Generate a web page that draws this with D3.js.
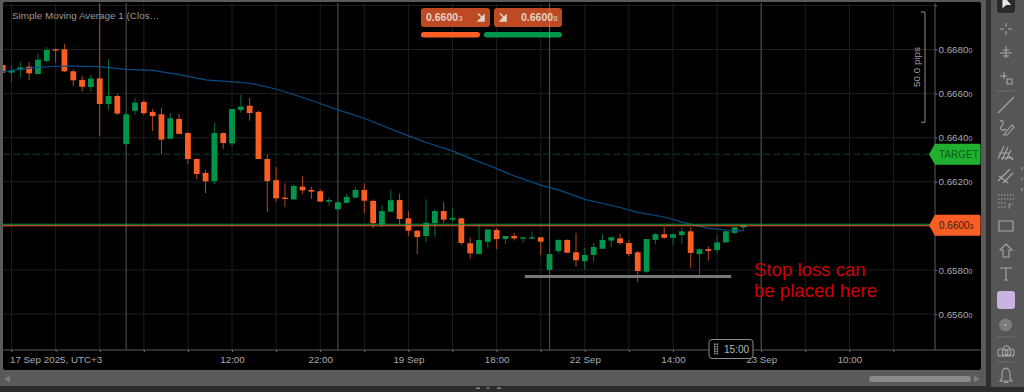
<!DOCTYPE html>
<html>
<head>
<meta charset="utf-8">
<script src="https://cdnjs.cloudflare.com/ajax/libs/d3/7.8.5/d3.min.js"></script>
<style>
  html, body { margin: 0; padding: 0; background: #2d2d2d; overflow: hidden; }
  svg { display: block; font-family: "Liberation Sans", Arial, sans-serif; }
</style>
</head>
<body>
<div id="chart"></div>
<script>
// candles, in 1e-5 price units
const opens = [66730,66695,66707,66722,66689,66748,66801,66801,66701,66662,66630,66669,66553,66589,66371,66522,66562,66517,66506,66395,66485,66421,66303,66240,66203,66421,66374,66526,66545,66517,66303,66207,66128,66120,66178,66163,66157,66110,66075,66104,66128,66163,66113,66004,66064,66117,66034,65978,65954,66012,66067,66028,66034,65921,65872,65927,65981,65940,65954,65942,65942,65948,65800,65886,65936,65880,65840,65868,65896,65933,65943,65922,65880,65792,65936,65962,65946,65958,65975,65872,65894,65890,65925,65968,65993];
const highs = [66730,66728,66743,66743,66783,66811,66805,66825,66710,66680,66686,67010,66756,66598,66512,66580,66571,66530,66535,66512,66507,66426,66306,66253,66467,66424,66530,66594,66580,66521,66321,66267,66193,66188,66225,66178,66166,66128,66110,66146,66175,66193,66120,66095,66163,66146,66067,65981,66120,66075,66108,66078,66037,65948,66002,65986,65989,65954,65968,65948,65975,65948,65918,65939,65939,65968,65899,65922,65962,65951,65964,65936,65886,65940,65968,65993,65964,65993,65993,65896,65907,65957,65978,65996,66004];
const lows = [66695,66654,66672,66662,66686,66743,66740,66698,66634,66609,66609,66408,66526,66503,66367,66504,66503,66430,66325,66395,66417,66281,66211,66149,66190,66349,66362,66513,66477,66303,66063,66110,66085,66117,66144,66122,66108,66091,66072,66104,66125,66057,65990,65993,66064,66005,65954,65872,65927,65949,66013,66017,65913,65850,65872,65901,65894,65918,65933,65922,65940,65868,65768,65875,65878,65815,65800,65836,65896,65904,65912,65862,65745,65786,65918,65940,65914,65918,65809,65772,65842,65877,65925,65963,65978];
const closes = [66695,66707,66719,66692,66754,66798,66795,66701,66660,66631,66668,66553,66589,66509,66506,66559,66511,66498,66391,66488,66417,66303,66235,66202,66421,66376,66530,66541,66512,66303,66203,66125,66122,66181,66161,66155,66110,66117,66107,66131,66163,66114,66012,66067,66116,66031,65978,65949,66014,66067,66028,66036,65922,65875,65936,65983,65940,65954,65943,65948,65948,65928,65872,65936,65878,65844,65868,65904,65936,65948,65922,65872,65795,65940,65962,65946,65962,65975,65877,65894,65886,65925,65975,65993,66003];

// moving average read at these candle positions
const smaIndex = [0,1,4,6,8,11,14,17,20,23,26,28,31,34,36,38,41,43,46,48,51,53,55,58,61,63,66,70,72,75,77,78,80,82,84];
const smaValues = [66700,66705,66719,66724,66725,66722,66710,66705,66686,66662,66653,66647,66621,66582,66555,66526,66488,66455,66408,66378,66340,66306,66276,66226,66185,66163,66120,66083,66061,66040,66017,66008,65990,65981,65977];

const priceTicks = [0.670, 0.668, 0.666, 0.664, 0.662, 0.658, 0.656, 0.660];
const gridIndex = d3.range(1, 102, 5);
const daySeparators = [14, 38, 62, 86];
const timeLabels = new Map([[6, '17 Sep 2025, UTC+3'], [26, '12:00'], [36, '22:00'], [46, '19 Sep'], [56, '18:00'], [66, '22 Sep'], [76, '14:00'], [86, '23 Sep'], [96, '10:00']]);

const bid = '0.66003';
const ask = '0.66008';
const targetPrice = 0.66325;
const stopLevel = 0.65770;
const stopRange = [59.2, 82.6];
const rulerRange = [0.66970, 0.66470];

const width = 1024, height = 392;
const plot = { left: 3, top: 2, right: 981, bottom: 370, axisX: 935, axisY: 350 };
const orange = '#f95f25', green = '#00964a';

const x = d3.scaleLinear().domain([0, 100]).range([2.7, 884.7]);
const y = d3.scaleLinear().domain([0.668, 0.656]).range([49.5, 314]);
const pts = v => v / 1e5;

const svg = d3.select('#chart').append('svg').attr('width', width).attr('height', height);

// window frame
svg.append('rect').attr('width', width).attr('height', height).attr('fill', '#2d2d2d');
svg.append('rect').attr('width', 986).attr('height', 386).attr('fill', '#5a5a5a');
svg.append('rect').attr('x', 991).attr('width', 33).attr('height', 387).attr('fill', '#565656');
svg.append('rect')
  .attr('x', plot.left).attr('y', plot.top)
  .attr('width', plot.right - plot.left).attr('height', plot.bottom - plot.top)
  .attr('rx', 2).attr('fill', '#000');

svg.append('clipPath').attr('id', 'plot-clip').append('rect')
  .attr('x', plot.left).attr('y', plot.top + 1)
  .attr('width', plot.axisX - plot.left).attr('height', plot.axisY - plot.top - 1);
const g = svg.append('g').attr('clip-path', 'url(#plot-clip)');

// grid
g.selectAll('.vgrid').data(gridIndex).join('line')
  .attr('x1', d => x(d)).attr('x2', d => x(d)).attr('y1', plot.top).attr('y2', plot.axisY)
  .attr('stroke', '#1d1d1d').attr('stroke-width', 1);
g.selectAll('.hgrid').data(priceTicks).join('line')
  .attr('x1', plot.left).attr('x2', plot.axisX).attr('y1', d => y(d)).attr('y2', d => y(d))
  .attr('stroke', d => d === 0.660 ? 'none' : '#1f1f1f').attr('stroke-width', 1);
g.selectAll('.sep').data(daySeparators).join('line')
  .attr('x1', d => x(d)).attr('x2', d => x(d)).attr('y1', plot.top).attr('y2', plot.axisY)
  .attr('stroke', '#4a4a4a').attr('stroke-width', 1.2);

// target line
g.append('line')
  .attr('x1', plot.left).attr('x2', plot.axisX).attr('y1', y(targetPrice)).attr('y2', y(targetPrice))
  .attr('stroke', '#11401a').attr('stroke-width', 1).attr('stroke-dasharray', '7 3');

// candles
const candles = opens.map((o, i) => ({ i, o: pts(o), h: pts(highs[i]), l: pts(lows[i]), c: pts(closes[i]) }));
const candle = g.selectAll('.candle').data(candles).join('g').attr('class', 'candle');
candle.append('line')
  .attr('x1', d => x(d.i)).attr('x2', d => x(d.i))
  .attr('y1', d => y(d.h)).attr('y2', d => y(d.l))
  .attr('stroke', d => d.c >= d.o ? '#007238' : '#b5481d').attr('stroke-width', 1);
candle.append('rect')
  .attr('x', d => x(d.i) - 2.9).attr('width', 5.8)
  .attr('y', d => y(Math.max(d.o, d.c)))
  .attr('height', d => Math.max(1.2, Math.abs(y(d.o) - y(d.c))))
  .attr('fill', d => d.c >= d.o ? green : orange);

// moving average
const smaLine = d3.line().x(d => x(d)).y((d, i) => y(pts(smaValues[i])));
g.append('path').attr('d', smaLine(smaIndex))
  .attr('fill', 'none').attr('stroke', '#044c84').attr('stroke-width', 1.2);

// bid and ask lines
svg.append('line')
  .attr('x1', plot.left).attr('x2', 932).attr('y1', y(+bid) + 0.6).attr('y2', y(+bid) + 0.6)
  .attr('stroke', orange).attr('stroke-width', 1);
svg.append('line')
  .attr('x1', plot.left).attr('x2', 932).attr('y1', y(+ask) + 0.2).attr('y2', y(+ask) + 0.2)
  .attr('stroke', green).attr('stroke-width', 1.2);

// stop line and note
g.append('line')
  .attr('x1', x(stopRange[0])).attr('x2', x(stopRange[1])).attr('y1', y(stopLevel)).attr('y2', y(stopLevel))
  .attr('stroke', '#787878').attr('stroke-width', 3);
svg.selectAll('.note').data(['Stop loss can', 'be placed here']).join('text')
  .attr('x', 754).attr('y', (d, i) => 276 + i * 21)
  .attr('font-size', 18.6).attr('fill', '#cc0008').text(d => d);

// axes
const yAxis = d3.axisRight(y).tickValues(priceTicks.filter(d => d !== 0.660)).tickSize(2).tickPadding(1.5)
  .tickFormat(d => d === 0.670 ? '' : d.toFixed(4));
const yG = svg.append('g').attr('transform', `translate(${plot.axisX},0)`).call(yAxis);
yG.select('.domain').remove();
yG.selectAll('line').attr('stroke', '#777');
yG.selectAll('text').attr('fill', '#a9a9a9').attr('font-size', 9.8).attr('font-family', '"Liberation Sans", Arial, sans-serif')
  .filter(d => d !== 0.670)
  .append('tspan').attr('font-size', 7).text('0');

const xAxis = d3.axisBottom(x).tickValues(gridIndex).tickSize(2).tickPadding(4.5)
  .tickFormat(d => timeLabels.get(d) || '');
const xG = svg.append('g').attr('transform', `translate(0,${plot.axisY})`).call(xAxis);
xG.select('.domain').remove();
xG.selectAll('line').attr('stroke', '#777');
xG.selectAll('text').attr('fill', '#a9a9a9').attr('font-size', 9.8).attr('font-family', '"Liberation Sans", Arial, sans-serif');

svg.append('line').attr('x1', plot.left).attr('x2', plot.right).attr('y1', plot.axisY).attr('y2', plot.axisY)
  .attr('stroke', '#5c5c5c').attr('stroke-width', 1);
svg.append('line').attr('x1', plot.axisX).attr('x2', plot.axisX).attr('y1', plot.top + 1).attr('y2', plot.axisY)
  .attr('stroke', '#5c5c5c').attr('stroke-width', 1);

// pips ruler
const ruler = svg.append('g').attr('fill', 'none').attr('stroke', '#8a8a8a');
ruler.append('path').attr('d', `M921,${y(rulerRange[0])}H925V${y(rulerRange[1])}H921`);
svg.append('text')
  .attr('transform', 'translate(920,67) rotate(-90)').attr('text-anchor', 'middle')
  .attr('font-size', 9.8).attr('fill', '#a0a0a0').text('50.0 pips');

// legend title
svg.append('text').attr('x', 12).attr('y', 18.5).attr('font-size', 9.9).attr('fill', '#9a9a9a')
  .text('Simple Moving Average 1 (Clos…');

// price flags on the axis
function flag(price, fill) {
  const cy = y(price);
  svg.append('path')
    .attr('d', `M929,${cy}L935,${cy - 10.5}H979q1.5,0 1.5,1.5V${cy + 9}q0,1.5 -1.5,1.5H935Z`)
    .attr('fill', fill);
  return cy;
}
const targetY = flag(targetPrice, '#1fb030');
svg.append('text').attr('x', 939).attr('y', targetY + 3.6).attr('font-size', 10).attr('fill', '#0d5a1c').text('TARGET');
const bidY = flag(+bid, orange);
const bidLabel = svg.append('text').attr('x', 939).attr('y', bidY + 3.6).attr('font-size', 10).attr('fill', '#3a170a').text(bid.slice(0, 6));
bidLabel.append('tspan').attr('font-size', 7).text(bid.slice(6));

// order buttons
const buttons = [
  { x: 421, w: 69, price: bid, tx: 426, ax: 481 },
  { x: 494, w: 68, price: ask, tx: 521, ax: 503 }
];
buttons.forEach(b => {
  svg.append('rect').attr('x', b.x).attr('y', 8).attr('width', b.w).attr('height', 19).attr('rx', 3).attr('fill', '#bd4a22');
  const t = svg.append('text').attr('x', b.tx).attr('y', 21).attr('font-size', 10.5).attr('font-weight', 'bold')
    .attr('fill', '#e2d2c8').text(b.price.slice(0, 6));
  t.append('tspan').attr('font-size', 8).attr('font-weight', 'normal').text(b.price.slice(6));
  svg.append('path')
    .attr('transform', `translate(${b.ax},17.5)`)
    .attr('d', 'M-3,-4L3,2M3,-2V3.5H-2.5Z')
    .attr('stroke', '#e2d2c8').attr('stroke-width', 1.6).attr('fill', '#e2d2c8');
});
svg.append('rect').attr('x', 421).attr('y', 32).attr('width', 59).attr('height', 5.5).attr('rx', 2.7).attr('fill', orange);
svg.append('rect').attr('x', 484).attr('y', 32).attr('width', 78).attr('height', 5.5).attr('rx', 2.7).attr('fill', green);
svg.append('line').attr('x1', x(62)).attr('x2', x(62)).attr('y1', 8).attr('y2', 38).attr('stroke', '#ffffff').attr('stroke-opacity', 0.2);

// time pill
svg.append('rect').attr('x', 709).attr('y', 339.5).attr('width', 44).attr('height', 19).attr('rx', 3)
  .attr('fill', '#000').attr('stroke', '#8c8c8c');
svg.selectAll('.pill-dot').data(d3.range(10)).join('rect')
  .attr('x', d => 714 + (d % 2) * 2.6).attr('y', d => 343.5 + Math.floor(d / 2) * 2.3)
  .attr('width', 1.6).attr('height', 1.6).attr('fill', '#9a9a9a');
svg.append('text').attr('x', 724).attr('y', 352.5).attr('font-size', 10).attr('fill', '#b5b5b5').text('15:00');

// scrollbar
svg.append('rect').attr('x', 869).attr('y', 376).attr('width', 102).attr('height', 6).attr('rx', 3).attr('fill', '#8a8a8a');
svg.append('path').attr('d', 'M974,375.5L980,379L974,382.5Z').attr('fill', '#7d7d7d');
svg.append('path').attr('d', 'M10,375.5L4,379L10,382.5Z').attr('fill', '#7d7d7d');
svg.append('path').attr('d', 'M476,387.5h4v1.5h-4ZM497,387.5h4v1.5h-4ZM486,387.5h4l-2,2Z').attr('fill', '#8a8a8a');

// toolbar
const tb = svg.append('g').attr('fill', 'none').attr('stroke', '#a8a8a8').attr('stroke-width', 1.1);
tb.append('rect').attr('x', 997).attr('y', -4).attr('width', 18).attr('height', 17).attr('rx', 3).attr('fill', '#2a2a2a').attr('stroke', 'none');
const icons = [
  [2, 'M-3,-6V5L0,2.5L4,2.5Z', '#e8e8e8'],
  [29, 'M-6,0H-2M2,0H6M0,-6V-2M0,2V6'],
  [52, 'M-6,1H6M0,-6V6M-3,-2L3,-2M-3,4L3,4'],
  [78, 'M-6,-2H1M-2,-6V1M1,1H6V6H1Z'],
  [105, 'M-8,8L8,-8'],
  [127, 'M-6,-6C-2,-8 -2,-2 -5,0C-7,3 -2,4 0,2M-1,6L6,-2L8,0L1,8L-2,8Z'],
  [153, 'M-8,6L-2,-7M-4,7L2,-6M0,7L5,-3M-7,0H4M-5,5H7M3,3L7,7'],
  [176, 'M-8,5L4,-7M-3,7L7,-3M-7,0L2,7'],
  [201, 'M-8,-6H8M-8,-2H8M-8,2H0M-8,6H0M3,3V8M3,3H7M3,5H6', null, '1.5 1.5'],
  [226, 'M-7,-5H7V5H-7Z'],
  [251, 'M0,-7L6,-1H3V6H-3V-1H-6Z'],
  [274, 'M-5,-5V-6H5V-5M0,-6V6M-2,6H2'],
  [351, 'M-6,-2H-3L-1,-5H2L4,-2H6Q8,-2 8,0V3Q8,5 6,5H-6Q-8,5 -8,3V0Q-8,-2 -6,-2ZM2,1.5a3,3 0 1,1 -6,0a3,3 0 1,1 6,0M5,1.5a3,3 0 1,1 -6,0a3,3 0 1,1 6,0'],
  [376, 'M0,-8Q4,-7 4,-2V2L6,5H-6L-4,2V-2Q-4,-7 0,-8ZM-2,6.5H2']
];
icons.forEach(([cy, d, col, dash]) => {
  tb.append('path').attr('transform', `translate(1006,${cy})`).attr('d', d)
    .attr('stroke', col || '#a8a8a8').attr('fill', col || 'none').attr('stroke-dasharray', dash || null);
});
tb.selectAll('.sepline').data([91, 337, 362]).join('line')
  .attr('x1', 997).attr('x2', 1015).attr('y1', d => d).attr('y2', d => d).attr('stroke', '#6e6e6e').attr('stroke-width', 1);
svg.append('rect').attr('x', 997).attr('y', 291).attr('width', 18).attr('height', 18).attr('rx', 3).attr('fill', '#c9b2e0');
svg.append('circle').attr('cx', 1005.5).attr('cy', 325).attr('r', 6.5).attr('fill', '#7c7c7c');
svg.append('circle').attr('cx', 1005.5).attr('cy', 325).attr('r', 0.9).attr('fill', '#c4c4c4');
svg.append('path').attr('d', 'M1021,167h2v3h-2ZM1021,177l2,2l-2,2ZM1021,188h2v3h-2Z').attr('fill', '#808080');
</script>
</body>
</html>
